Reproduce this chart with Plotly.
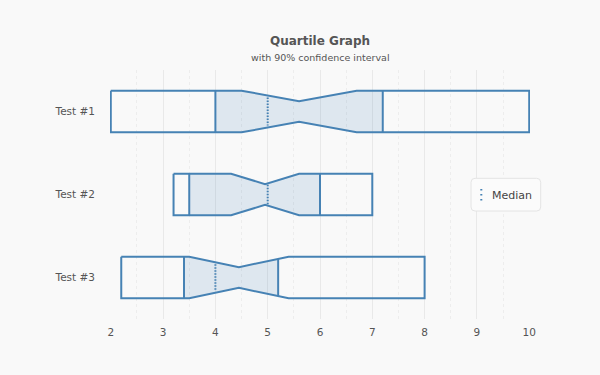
import numpy as np
import plotly.graph_objects as go

# ---- data ----
tests = ["Test #1", "Test #2", "Test #3"]
minimum = [2.0, 3.2, 2.2]
q1 = [4.0, 3.5, 3.4]
median = [5.0, 5.0, 4.0]
q3 = [7.2, 6.0, 5.2]
maximum = [10.0, 7.0, 8.0]
ci_low = [4.5, 4.3, 3.5]      # 90% confidence interval lower bound
ci_mid = [5.6, 4.95, 4.45]    # centre of interval (notch waist)
ci_high = [6.7, 5.6, 5.4]     # upper bound
x_ticks = [2, 3, 4, 5, 6, 7, 8, 9, 10]

# ---- style ----
STROKE = "#4682b4"
FILL = "rgba(70,130,180,0.15)"
BG = "#f9f9f9"
FONT = "DejaVu Sans"
H = 0.25   # half height of box (category units)
N = 0.125  # half height at notch waist

fig = go.Figure()

for i, name in enumerate(tests):
    c = i
    xs = [minimum[i], ci_low[i], ci_mid[i], ci_high[i], maximum[i]]
    hh = [H, H, N, H, H]

    # fill between Q1 and Q3 inside notch outline
    xf = sorted(set([q1[i], q3[i]] + [x for x in xs[1:4] if q1[i] < x < q3[i]]))
    hf = np.interp(xf, xs, hh)
    px = list(xf) + list(xf[::-1])
    py = [c - h for h in hf] + [c + h for h in hf[::-1]]
    fig.add_trace(go.Scatter(x=px, y=py, fill="toself", fillcolor=FILL,
                             mode="none", hoverinfo="skip", showlegend=False))

    # outline
    ox = xs + xs[::-1] + [xs[0]]
    oy = [c - h for h in hh] + [c + h for h in hh[::-1]] + [c - hh[0]]
    fig.add_trace(go.Scatter(x=ox, y=oy, mode="lines",
                             line=dict(color=STROKE, width=2), name=name,
                             showlegend=False))

    # quartile lines
    for qv in (q1[i], q3[i]):
        h = float(np.interp(qv, xs, hh))
        fig.add_trace(go.Scatter(x=[qv, qv], y=[c - h, c + h], mode="lines",
                                 line=dict(color=STROKE, width=2),
                                 showlegend=False, hoverinfo="skip"))

    # median
    h = 0.87 * float(np.interp(median[i], xs, hh))
    fig.add_trace(go.Scatter(x=[median[i], median[i]], y=[c - h, c + h],
                             mode="lines",
                             line=dict(color=STROKE, width=2, dash="1.5px,1.5px"),
                             name="Median", showlegend=False))

# ---- manual legend ----
x0, x1 = (471 - 110) / 420, (540.7 - 110) / 420
y0, y1 = (319 - 211) / 249, (319 - 178.3) / 249
rx, ry = 4 / 420, 4 / 249
path = (f"M{x0+rx},{y0} L{x1-rx},{y0} Q{x1},{y0} {x1},{y0+ry} "
        f"L{x1},{y1-ry} Q{x1},{y1} {x1-rx},{y1} L{x0+rx},{y1} "
        f"Q{x0},{y1} {x0},{y1-ry} L{x0},{y0+ry} Q{x0},{y0} {x0+rx},{y0} Z")
fig.add_shape(type="path", path=path, xref="paper", yref="paper",
              line=dict(color="#e4e4e4", width=1), fillcolor="#fbfbfb")
lx = (481.3 - 110) / 420
fig.add_shape(type="line", xref="paper", yref="paper",
              x0=lx, x1=lx, y0=(319 - 200.5) / 249, y1=(319 - 187.5) / 249,
              line=dict(color=STROKE, width=2, dash="1.5px,3.5px"))
fig.add_annotation(x=(490 - 110) / 420, y=(319 - 195) / 249, xref="paper",
                   yref="paper", text="Median", showarrow=False,
                   xanchor="left", yanchor="middle",
                   font=dict(family=FONT, size=11, color="#444"))

# ---- titles ----
fig.add_annotation(x=0.5, y=1 + 29 / 249, xref="paper", yref="paper",
                   text="<b>Quartile Graph</b>", showarrow=False,
                   yanchor="middle", font=dict(family=FONT, size=12, color="#555"))
fig.add_annotation(x=0.5, y=1 + 13 / 249, xref="paper", yref="paper",
                   text="with 90% confidence interval", showarrow=False,
                   yanchor="middle", font=dict(family=FONT, size=9.5, color="#555"))

fig.update_layout(
    width=600, height=375,
    margin=dict(l=110, r=70, t=70, b=56),
    paper_bgcolor=BG, plot_bgcolor=BG,
    font=dict(family=FONT, size=11, color="#555"),
    showlegend=False,
    xaxis=dict(range=[1.985, 10.015], tickvals=x_ticks, showgrid=True,
               gridcolor="#e9e9e9", gridwidth=1, zeroline=False,
               showline=False, ticks="", ticklabelstandoff=5,
               minor=dict(dtick=0.5, showgrid=True, gridcolor="#ededed",
                          griddash="3px,3px", gridwidth=1),
               tickfont=dict(size=10.5, color="#555")),
    yaxis=dict(range=[2.5, -0.5], tickvals=[0, 1, 2], ticktext=tests,
               showgrid=False, zeroline=False, showline=False, ticks="",
               ticklabelstandoff=14,
               tickfont=dict(size=10.5, color="#555")),
)

fig.write_html(
    "out.html",
    config={"displayModeBar": False},
    post_script="document.body.style.margin='0';"
                "document.body.style.overflow='hidden';"
                "document.body.style.background='#f9f9f9';",
)
